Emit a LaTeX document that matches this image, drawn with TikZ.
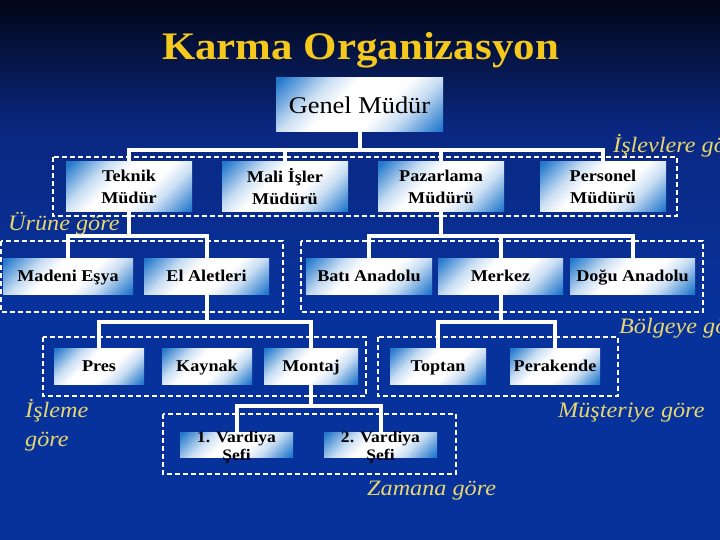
\documentclass[tikz,border=0pt]{standalone}
\usepackage{fontspec}
\setmainfont{Liberation Serif}[FakeStretch=1.1]
\usetikzlibrary{positioning}

\definecolor{bgtop}{RGB}{2,6,22}
\definecolor{bgmid}{RGB}{10,40,130}
\definecolor{bgblue}{RGB}{8,50,155}
\definecolor{titlegold}{RGB}{245,200,30}
\definecolor{notegold}{RGB}{230,214,112}
\definecolor{cornerblue}{RGB}{35,120,205}

\pgfdeclareverticalshading{unitfade}{100bp}{color(0bp)=(cornerblue); color(16bp)=(cornerblue);
  color(32bp)=(cornerblue!25!white); color(42bp)=(white); color(58bp)=(white);
  color(68bp)=(cornerblue!25!white); color(84bp)=(cornerblue); color(100bp)=(cornerblue)}

\tikzset{
  unitbox/.style={shading=unitfade, shading angle=45, align=center, inner sep=0pt, text=black,
    font=\fontsize{16.5}{22}\selectfont\bfseries},
  unitline/.style={unitbox, text height=11pt, text depth=1pt},
  shifttext/.style={align=center, inner sep=0pt, text=black, yshift=-3pt,
    font=\fontsize{16}{18}\selectfont\bfseries},
  link/.style={white, line width=4pt},
  groupframe/.style={white, line width=1.1pt, dash pattern=on 5pt off 3pt},
  note/.style={text=notegold, anchor=base west, inner sep=0pt,
    font=\fontsize{22}{29}\selectfont\itshape}
}

\begin{document}
\begin{tikzpicture}[x=1pt,y=-1pt]
  % background
  \useasboundingbox (0,0) rectangle (720,540);
  \fill[bgblue] (0,0) rectangle (720,540);
  \shade[top color=bgtop, bottom color=bgmid] (0,0) rectangle (720,130);
  \shade[top color=bgmid, bottom color=bgblue] (0,130) rectangle (720,300);

  \node[text=titlegold, font=\fontsize{39}{44}\selectfont\bfseries, anchor=base] (title) at (360.5,60) {Karma Organizasyon};

  % dashed groups
  \draw[groupframe] (53,157) rectangle (677,216);
  \draw[groupframe] (1,241) rectangle (283,312);
  \draw[groupframe] (301,241) rectangle (703,312);
  \draw[groupframe] (43,337) rectangle (366,396);
  \draw[groupframe] (378,337) rectangle (618,396);
  \draw[groupframe] (163,414) rectangle (456,474);

  % units
  \node[unitbox, minimum width=167pt, minimum height=54pt, font=\fontsize{24}{28}\selectfont] (genel) at (359.5,105) {Genel Müdür};
  \foreach \nm/\cx/\txt in {teknik/129/{Teknik\\Müdür}, mali/285/{Mali İşler\\Müdürü},
      pazarlama/441/{Pazarlama\\Müdürü}, personel/603/{Personel\\Müdürü}}
    \node[unitbox, minimum width=126pt, minimum height=50pt] (\nm) at (\cx,187) {\txt};
  \foreach \nm/\cx/\w/\txt in {madeni/68/130/Madeni Eşya, aletler/206.5/125/El Aletleri,
      bati/369/126/Batı Anadolu, merkez/500.5/125/Merkez, dogu/632.5/125/Doğu Anadolu}
    \node[unitline, minimum width=\w pt, minimum height=36pt] (\nm) at (\cx,276) {\txt};
  \foreach \nm/\cx/\w/\txt in {pres/99/90/Pres, kaynak/207/90/Kaynak, montaj/311/94/Montaj,
      toptan/438/96/Toptan, perakende/555/90/Perakende}
    \node[unitline, minimum width=\w pt, minimum height=36pt] (\nm) at (\cx,366) {\txt};
  \node[unitbox, minimum width=113pt, minimum height=25pt,
    label={[shifttext]center:{1. Vardiya\\Şefi}}] (vardiya1) at (236.5,444.5) {};
  \node[unitbox, minimum width=113pt, minimum height=25pt,
    label={[shifttext]center:{2. Vardiya\\Şefi}}] (vardiya2) at (380.5,444.5) {};

  % links
  \coordinate (busA) at (359.5,150);
  \draw[link] (genel.south) -- (busA);
  \draw[link] (teknik.north) |- (busA) -| (personel.north);
  \draw[link] (mali.north) -- (mali.north |- busA);
  \draw[link] (pazarlama.north) -- (pazarlama.north |- busA);

  \coordinate (busB) at (129,236);
  \draw[link] (teknik.south) -- (busB);
  \draw[link] (madeni.north) |- (busB) -| (aletler.north);

  \coordinate (busC) at (441,236);
  \draw[link] (pazarlama.south) -- (busC);
  \draw[link] (bati.north) |- (busC) -| (dogu.north);
  \draw[link] (merkez.north) -- (merkez.north |- busC);

  \coordinate (busD) at (206.5,322);
  \draw[link] (aletler.south) -- (busD);
  \draw[link] (pres.north) |- (busD) -| (montaj.north);

  \coordinate (busE) at (500.5,322);
  \draw[link] (merkez.south) -- (busE);
  \draw[link] (toptan.north) |- (busE) -| (perakende.north);

  \coordinate (busF) at (311,406);
  \draw[link] (montaj.south) -- (busF);
  \draw[link] (vardiya1.north) |- (busF) -| (vardiya2.north);

  % grouping notes
  \node[note] (islev) at (613,153) {İşlevlere göre};
  \node[note] (urun) at (8,230) {Ürüne göre};
  \node[note] (bolge) at (619,333) {Bölgeye göre};
  \node[note] (musteri) at (558,417) {Müşteriye göre};
  \node[note, align=left] (isleme) at (25,446) {İşleme\\göre};
  \node[note] (zaman) at (367,495) {Zamana göre};
\end{tikzpicture}
\end{document}
